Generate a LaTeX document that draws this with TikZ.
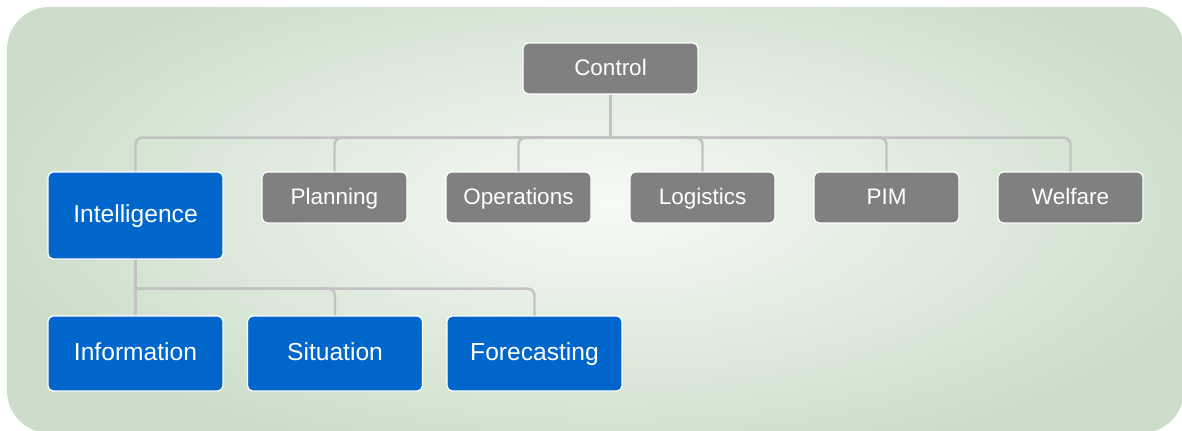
\documentclass[tikz,border=0pt]{standalone}
\usepackage{fontspec}
\setmainfont{Liberation Sans}
\usetikzlibrary{positioning}
\definecolor{boxgrey}{RGB}{128,128,128}
\definecolor{boxblue}{RGB}{0,102,204}
\definecolor{linkgrey}{RGB}{194,194,194}
\definecolor{bgouter}{RGB}{204,222,202}
\definecolor{bginner}{RGB}{247,250,246}

\begin{document}
\begin{tikzpicture} [%
    node distance = 3.68cm,
    on grid,
    box/.style = {%
      rectangle,
      rounded corners = 3pt,
      draw = white,
      line width = 0.7pt,
      text = white,
      text height = 0.86em,
      text depth = 0.1em,
      inner sep = 0pt },
    grey box/.style = {%
      box,
      fill = boxgrey,
      minimum width = 2.9cm,
      minimum height = 1.02cm,
      font = \fontsize{12.8}{15}\selectfont },
    blue box/.style = {%
      box,
      fill = boxblue,
      minimum width = 3.5cm,
      minimum height = 1.5cm,
      font = \fontsize{14}{16}\selectfont },
    link/.style = {%
      draw = linkgrey,
      line width = 1.4pt,
      rounded corners = 4pt }
  ]

  \useasboundingbox (0,0) rectangle (23.64,-8.6);

  % backdrop
  \begin{scope}
    \clip[rounded corners=0.85cm] (0.14,-0.14) rectangle (23.68,-8.66);
    \fill[bgouter] (0,0) rectangle (23.7,-8.7);
    \shade[inner color=bginner, outer color=bgouter]
      (12.2,-4.1) ellipse (12.5cm and 5.2cm);
  \end{scope}

  % top level
  \node[grey box, minimum width=3.5cm] (ctl) at (12.21,-1.37) {Control};

  % second level
  \node[blue box, minimum height=1.74cm] (int) at (2.71,-4.31) {Intelligence};
  \node[grey box] (pln) at (6.69,-3.95) {Planning};
  \node[grey box] (ops) [right=of pln] {Operations};
  \node[grey box] (log) [right=of ops] {Logistics};
  \node[grey box] (pim) [right=of log] {PIM};
  \node[grey box] (wel) [right=of pim] {Welfare};

  % third level
  \node[blue box] (inf) [below=2.76 of int] {Information};
  \node[blue box] (sit) [right=3.99 of inf] {Situation};
  \node[blue box] (fct) [right=3.99 of sit] {Forecasting};

  \path (ctl.south) ++(0,-0.86) coordinate (bus);
  \path (int.south) ++(0,-0.58) coordinate (sub);

  \draw[link] (ctl.south) -- (bus);
  \foreach \c in {int, pln, ops, log, pim, wel}
    \draw[link] (bus) -| (\c.north);

  \draw[link] (int.south) -- (sub);
  \foreach \c in {inf, sit, fct}
    \draw[link] (sub) -| (\c.north);

\end{tikzpicture}
\end{document}
